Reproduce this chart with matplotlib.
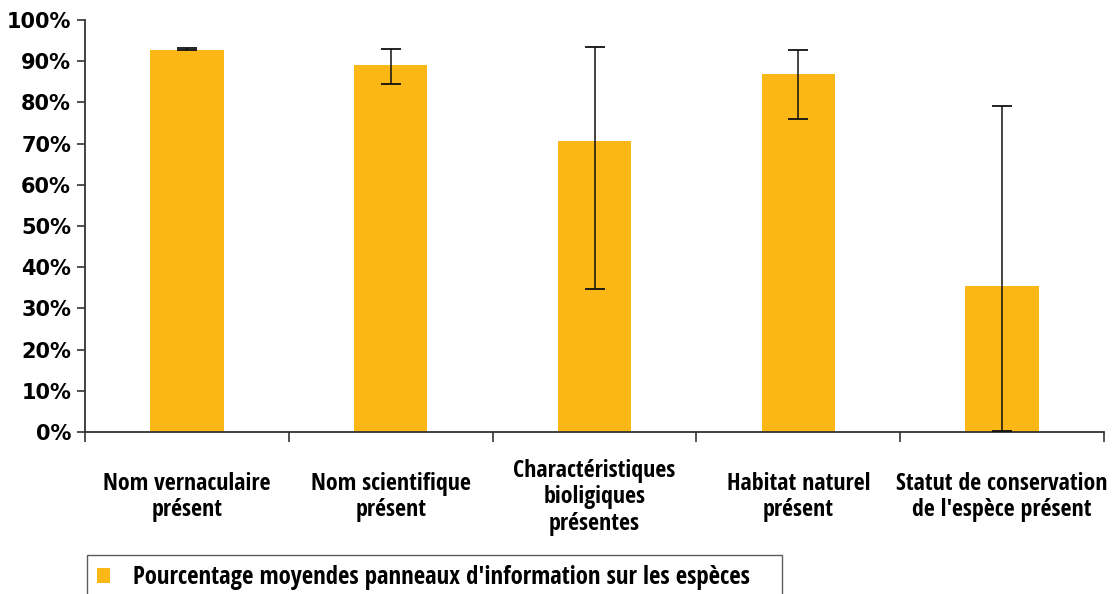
import matplotlib
matplotlib.use("Agg")
import matplotlib.pyplot as plt
from matplotlib import font_manager
from matplotlib.ticker import FixedLocator, PercentFormatter

categories = ["Nom vernaculaire\nprésent", "Nom scientifique\nprésent",
              "Charactéristiques\nbioligiques\nprésentes", "Habitat naturel\nprésent",
              "Statut de conservation\nde l'espèce présent"]
values = [92.8, 89.0, 70.7, 86.8, 35.4]
err_low = [92.6, 84.4, 34.8, 75.9, 0.3]
err_high = [93.1, 93.0, 93.4, 92.6, 79.2]
legend_label = "Pourcentage moyendes panneaux d'information sur les espèces"
yticks = [0, 10, 20, 30, 40, 50, 60, 70, 80, 90, 100]

avail = {f.name for f in font_manager.fontManager.ttflist}
family = "DejaVu Sans"
for cand in ["Liberation Sans Narrow", "DejaVu Sans Condensed", "Open Sans Condensed", "Roboto Condensed"]:
    if cand in avail:
        family = cand
        break
plt.rcParams["font.family"] = [family, "DejaVu Sans"]
plt.rcParams["font.weight"] = "bold"

bar_color = "#FBB715"

fig = plt.figure(figsize=(11.16, 5.94), dpi=100)
ax = fig.add_axes([85/1116, 1-432/594, (1104-85)/1116, (432-20)/594])

x = list(range(len(categories)))
yerr = [[v - lo for v, lo in zip(values, err_low)], [hi - v for v, hi in zip(values, err_high)]]
ax.bar(x, values, width=0.36, color=bar_color, label=legend_label, zorder=2)
ax.errorbar(x, values, yerr=yerr, fmt="none", ecolor="#111111", elinewidth=1.1,
            capsize=7, capthick=1.3, zorder=3)

ax.set_xlim(-0.5, len(categories) - 0.5)
ax.set_ylim(0, 100)
ax.yaxis.set_major_locator(FixedLocator(yticks))
ax.yaxis.set_major_formatter(PercentFormatter(decimals=0))
ax.set_xticks(x)
ax.set_xticklabels(categories, fontsize=17.2, fontweight="bold", linespacing=1.13, va="center")
ax.xaxis.set_minor_locator(FixedLocator([i - 0.5 for i in range(len(categories) + 1)]))
ax.tick_params(axis="x", which="major", length=0, pad=47)
ax.tick_params(axis="x", which="minor", length=7, width=1.2, direction="out", color="#333333")
ax.tick_params(axis="y", length=6, width=1.2, color="#333333", pad=4)
for lab in ax.get_yticklabels():
    lab.set_fontweight("bold")
    lab.set_fontfamily("DejaVu Sans")
    lab.set_fontsize(15)

for s in ["top", "right"]:
    ax.spines[s].set_visible(False)
for s in ["left", "bottom"]:
    ax.spines[s].set_color("#333333")
    ax.spines[s].set_linewidth(1.3)

leg = fig.legend(loc="upper left", bbox_to_anchor=(87/1116, 1-555/594, (782-87)/1116, 0.0),
                 mode="expand", frameon=True, fancybox=False, edgecolor="#333333",
                 prop={"size": 17.8, "weight": "bold"}, handlelength=0.55, handleheight=0.55,
                 handletextpad=0.9, borderpad=0.4, borderaxespad=0)
leg.get_frame().set_linewidth(1.0)

fig.savefig("out.png", dpi=100)
